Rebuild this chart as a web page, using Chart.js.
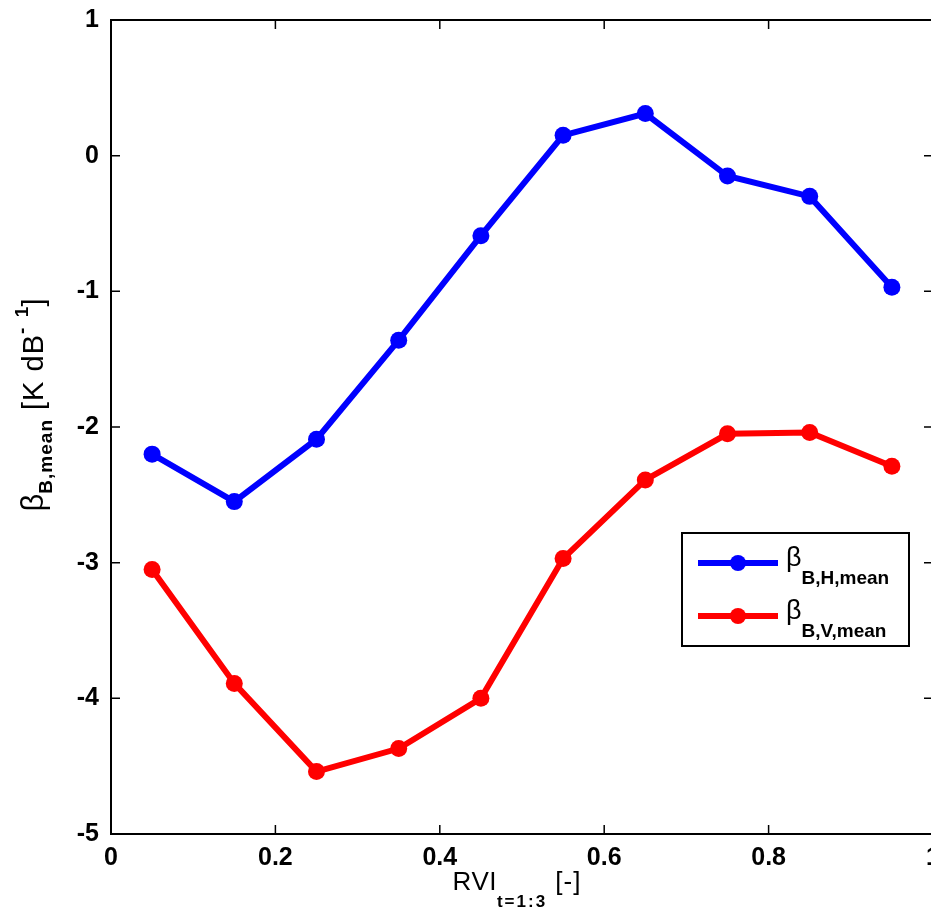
<!DOCTYPE html>
<html>
<head>
<meta charset="utf-8">
<script src="https://cdn.jsdelivr.net/npm/chart.js@4.4.1/dist/chart.umd.min.js"></script>
<style>
  html, body { margin: 0; padding: 0; background: #fff; overflow: hidden; }
  #wrap { width: 931px; height: 911px; overflow: hidden; }
</style>
</head>
<body>
<div id="wrap"><canvas id="chart" width="960" height="911"></canvas></div>
<script>
// RVI bin centres and mean beta values
var rviBins = [0.05, 0.15, 0.25, 0.35, 0.45, 0.55, 0.65, 0.75, 0.85, 0.95];
var betaH = [-2.20, -2.55, -2.09, -1.36, -0.59, 0.15, 0.31, -0.15, -0.30, -0.97];
var betaV = [-3.05, -3.89, -4.54, -4.37, -4.00, -2.97, -2.39, -2.05, -2.04, -2.29];

var xTicks = [0, 0.2, 0.4, 0.6, 0.8, 1];
var yTicks = [-5, -4, -3, -2, -1, 0, 1];

var seriesLabels = ['H', 'V'];

var toPoints = function(xs, ys) {
	return xs.map(function(x, i) { return { x: x, y: ys[i] }; });
};

var fam = '"Liberation Sans", Arial, sans-serif';
var mainFont = '26px ' + fam;

// draw a run of text pieces (with sub/superscripts)
var drawRich = function(ctx, parts, cx, y, alignLeft) {
	var w = 0;
	parts.forEach(function(p) {
		ctx.font = p.font;
		ctx.letterSpacing = (p.ls || 0) + 'px';
		w += ctx.measureText(p.t).width;
	});
	var x = alignLeft ? cx : cx - w / 2;
	ctx.textBaseline = 'alphabetic';
	ctx.textAlign = 'left';
	parts.forEach(function(p) {
		ctx.font = p.font;
		ctx.letterSpacing = (p.ls || 0) + 'px';
		ctx.fillText(p.t, x, y + (p.dy || 0));
		x += ctx.measureText(p.t).width;
	});
	ctx.letterSpacing = '0px';
};

var framePlugin = {
	id: 'frame',
	afterDatasetsDraw: function(chart) {
		var ctx = chart.ctx, a = chart.chartArea;
		var xs = chart.scales.x, ys = chart.scales.y;
		ctx.save();
		ctx.strokeStyle = '#000';
		ctx.lineWidth = 2;
		ctx.strokeRect(a.left, a.top, a.right - a.left, a.bottom - a.top);
		ctx.lineWidth = 1.5;
		ctx.beginPath();
		xTicks.forEach(function(v) {
			var px = xs.getPixelForValue(v);
			ctx.moveTo(px, a.bottom); ctx.lineTo(px, a.bottom - 9);
			ctx.moveTo(px, a.top); ctx.lineTo(px, a.top + 9);
		});
		yTicks.forEach(function(v) {
			var py = ys.getPixelForValue(v);
			ctx.moveTo(a.left, py); ctx.lineTo(a.left + 9, py);
			ctx.moveTo(a.right, py); ctx.lineTo(a.right - 9, py);
		});
		ctx.stroke();
		ctx.restore();
	},
	afterDraw: function(chart) {
		var ctx = chart.ctx;
		ctx.save();
		ctx.fillStyle = '#000';

		// x axis title
		drawRich(ctx, [
			{ t: 'RVI', font: mainFont, ls: 0.5 },
			{ t: 't=1:3', font: 'bold 17px ' + fam, dy: 17, ls: 2 },
			{ t: ' [-]', font: mainFont, ls: 1 }
		], 517, 890);

		// y axis title
		ctx.save();
		ctx.translate(43, 405);
		ctx.rotate(-Math.PI / 2);
		drawRich(ctx, [
			{ t: '\u03B2', font: '31px ' + fam },
			{ t: 'B,mean', font: 'bold 19px ' + fam, dy: 9, ls: 1 },
			{ t: ' [K dB', font: '29px ' + fam, ls: 1 },
			{ t: '-  1', font: 'bold 19px ' + fam, dy: -15 },
			{ t: ']', font: '29px ' + fam }
		], 0, 0);
		ctx.restore();

		// legend
		var lx = 682, ly = 533, lw = 227, lh = 113;
		ctx.fillStyle = '#fff';
		ctx.fillRect(lx, ly, lw, lh);
		ctx.strokeStyle = '#000';
		ctx.lineWidth = 2;
		ctx.strokeRect(lx, ly, lw, lh);
		chart.data.datasets.forEach(function(ds, i) {
			var yy = 563 + i * 53;
			ctx.strokeStyle = ds.borderColor;
			ctx.lineWidth = 6;
			ctx.beginPath();
			ctx.moveTo(698, yy); ctx.lineTo(778, yy);
			ctx.stroke();
			ctx.fillStyle = ds.borderColor;
			ctx.beginPath();
			ctx.arc(738, yy, 8, 0, Math.PI * 2);
			ctx.fill();
			ctx.fillStyle = '#000';
			drawRich(ctx, [
				{ t: '\u03B2', font: '27px ' + fam },
				{ t: 'B,' + seriesLabels[i] + ',mean', font: 'bold 19px ' + fam, dy: 18 }
			], 786, yy + 3, true);
		});
		ctx.restore();
	}
};

var ctx = document.getElementById('chart').getContext('2d');
var config = {
	type: 'line',
	data: {
		datasets: [
			{
				label: '\u03B2B,H,mean',
				data: toPoints(rviBins, betaH),
				borderColor: '#0000ff',
				backgroundColor: '#0000ff',
				borderWidth: 6,
				pointRadius: 8.5,
				pointBorderWidth: 0,
				pointHoverRadius: 8.5
			},
			{
				label: '\u03B2B,V,mean',
				data: toPoints(rviBins, betaV),
				borderColor: '#ff0000',
				backgroundColor: '#ff0000',
				borderWidth: 6,
				pointRadius: 8.5,
				pointBorderWidth: 0,
				pointHoverRadius: 8.5
			}
		]
	},
	options: {
		responsive: false,
		animation: false,
		layout: { padding: { top: 20, right: 27, left: 0, bottom: 0 } },
		plugins: {
			legend: { display: false },
			tooltip: { enabled: false }
		},
		scales: {
			x: {
				type: 'linear',
				min: 0,
				max: 1,
				afterBuildTicks: function(s) { s.ticks = xTicks.map(function(v) { return { value: v }; }); },
				afterFit: function(s) { s.height = 77; s.paddingLeft = 0; s.paddingRight = 0; },
				grid: { display: false, drawTicks: false },
				border: { display: false },
				ticks: {
					padding: 9,
					color: '#000',
					font: { family: fam, size: 25, weight: 'bold' },
					maxRotation: 0,
					callback: function(v) { return String(v); }
				}
			},
			y: {
				type: 'linear',
				min: -5,
				max: 1,
				afterBuildTicks: function(s) { s.ticks = yTicks.map(function(v) { return { value: v }; }); },
				afterFit: function(s) { s.width = 111; s.paddingTop = 0; s.paddingBottom = 0; },
				grid: { display: false, drawTicks: false },
				border: { display: false },
				ticks: {
					padding: 12,
					color: '#000',
					font: { family: fam, size: 25, weight: 'bold' },
					callback: function(v) { return String(v); }
				}
			}
		}
	},
	plugins: [framePlugin]
};
window.betaChart = new Chart(ctx, config);
</script>
</body>
</html>
